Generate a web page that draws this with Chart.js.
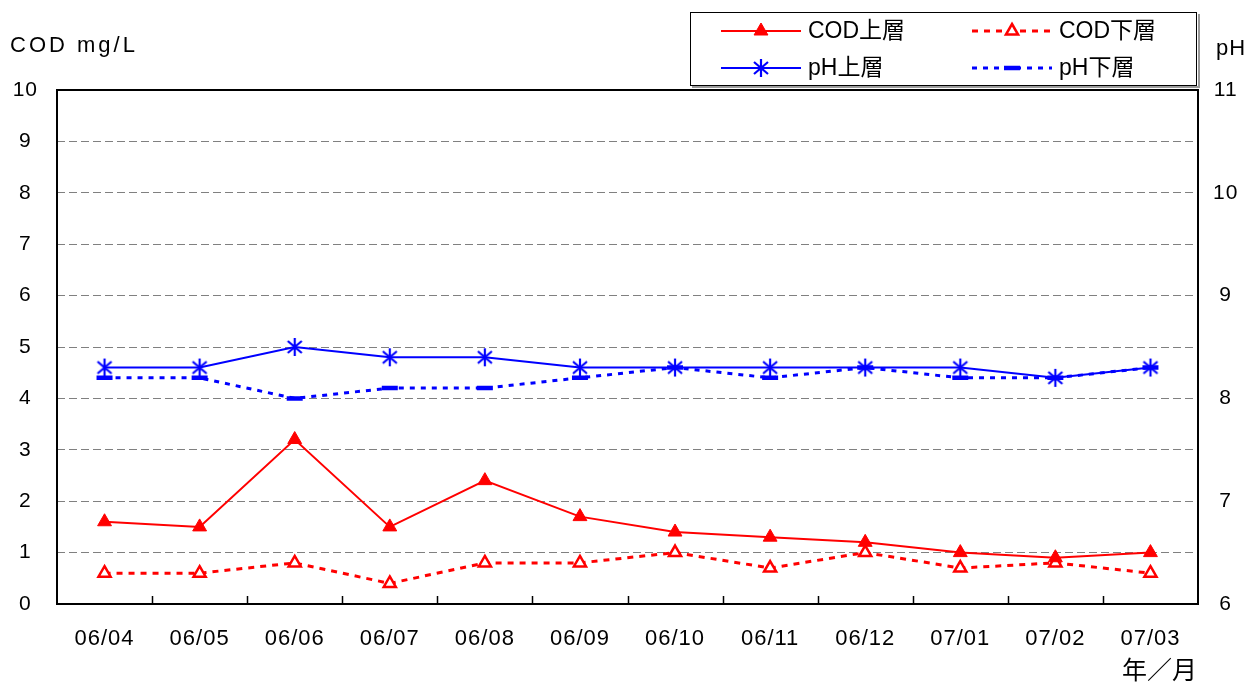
<!DOCTYPE html>
<html>
<head>
<meta charset="utf-8">
<script src="https://cdn.jsdelivr.net/npm/chart.js@4"></script>
<style>
  html, body { margin: 0; padding: 0; background: #fff; }
</style>
</head>
<body>
<canvas id="my-chart" width="1250" height="686"></canvas>
<script>
'use strict';

// ******* DATA *********
let monthLabels = ['06/04', '06/05', '06/06', '06/07', '06/08', '06/09', '06/10', '06/11', '06/12', '07/01', '07/02', '07/03'];
let codUpper = [1.6, 1.5, 3.2, 1.5, 2.4, 1.7, 1.4, 1.3, 1.2, 1.0, 0.9, 1.0];
let codLower = [0.6, 0.6, 0.8, 0.4, 0.8, 0.8, 1.0, 0.7, 1.0, 0.7, 0.8, 0.6];
let phUpper = [8.3, 8.3, 8.5, 8.4, 8.4, 8.3, 8.3, 8.3, 8.3, 8.3, 8.2, 8.3];
let phLower = [8.2, 8.2, 8.0, 8.1, 8.1, 8.2, 8.3, 8.2, 8.3, 8.2, 8.2, 8.3];
let codTicks = [0, 10, 1];
let phTicks = [6, 11, 1];

// ******* FONTS *********
let latinFont = '"Liberation Sans", "Noto Sans CJK JP", sans-serif';
let cjkFont = '"Noto Sans CJK JP", "Liberation Sans", sans-serif';

// ******* ASTERISK MARKER (vertical + X) *********
function makeAsterisk() {
  let c = document.createElement('canvas');
  c.width = 18;
  c.height = 20;
  let g = c.getContext('2d');
  g.strokeStyle = '#0000ff';
  g.lineWidth = 2.2;
  g.beginPath();
  g.moveTo(9, 1); g.lineTo(9, 19);
  g.moveTo(2, 4); g.lineTo(16, 16);
  g.moveTo(2, 16); g.lineTo(16, 4);
  g.stroke();
  return c;
}
let asterisk = makeAsterisk();

// ******* FRAME, TICKS, TITLES, LEGEND *********
let decorPlugin = {
  id: 'decor',
  beforeDraw(chart) {
    chart.ctx.letterSpacing = '1px';
  },
  afterDraw(chart) {
    let ctx = chart.ctx;
    let a = chart.chartArea;
    let xs = chart.scales.x;
    ctx.save();
    ctx.letterSpacing = '0px';
    ctx.setLineDash([]);

    // plot frame
    ctx.strokeStyle = '#000';
    ctx.lineWidth = 2;
    ctx.strokeRect(a.left, a.top, a.right - a.left, a.bottom - a.top);

    // inner tick marks at category boundaries
    ctx.lineWidth = 1.5;
    ctx.beginPath();
    for (let i = 1; i < monthLabels.length; i++) {
      let x = Math.round((xs.getPixelForValue(i - 1) + xs.getPixelForValue(i)) / 2) + 0.5;
      ctx.moveTo(x, a.bottom);
      ctx.lineTo(x, a.bottom - 8);
    }
    ctx.stroke();

    // axis titles
    ctx.fillStyle = '#000';
    ctx.textBaseline = 'middle';
    ctx.textAlign = 'left';
    ctx.font = '22px ' + latinFont;
    ctx.letterSpacing = '3px';
    ctx.fillText('COD mg/L', 10, 46);
    ctx.letterSpacing = '1px';
    ctx.fillText('pH', 1216, 49);
    ctx.letterSpacing = '0px';
    ctx.font = '25px ' + cjkFont;
    ctx.fillText('年／月', 1122, 669);

    // legend box
    ctx.fillStyle = '#fff';
    ctx.fillRect(690, 12, 507, 74);
    ctx.strokeStyle = '#9a9a9a';
    ctx.lineWidth = 2;
    ctx.beginPath();
    ctx.moveTo(692, 87); ctx.lineTo(1199, 87); ctx.lineTo(1199, 14);
    ctx.stroke();
    ctx.strokeStyle = '#000';
    ctx.lineWidth = 1;
    ctx.strokeRect(690.5, 12.5, 506, 73);

    let spots = [[721, 31], [972, 31], [721, 68], [972, 68]];
    chart.data.datasets.forEach((ds, i) => {
      let x0 = spots[i][0];
      let y = spots[i][1];
      ctx.strokeStyle = ds.borderColor;
      ctx.lineWidth = ds.borderWidth;
      ctx.setLineDash(ds.borderDash || []);
      ctx.beginPath();
      ctx.moveTo(x0, y);
      ctx.lineTo(x0 + 80, y);
      ctx.stroke();
      ctx.setLineDash([]);
      ctx.fillStyle = ds.pointBackgroundColor;
      ctx.strokeStyle = ds.pointBorderColor;
      ctx.lineWidth = ds.pointBorderWidth;
      Chart.helpers.drawPoint(ctx, {
        pointStyle: ds.pointStyle,
        radius: ds.pointRadius,
        rotation: 0,
        borderWidth: ds.pointBorderWidth
      }, x0 + 40, y);
      ctx.fillStyle = '#000';
      ctx.font = '23px ' + latinFont;
      ctx.textAlign = 'left';
      ctx.fillText(ds.label, x0 + 87, y + 1);
    });
    ctx.restore();
  }
};

// ******* CHART *********
let ctx = document.getElementById('my-chart');

let xTickFont = { family: latinFont, size: 22 };
let yTickFont = { family: latinFont, size: 21 };

new Chart(ctx, { //eslint-disable-line
  type: 'line',
  data: {
    labels: monthLabels,
    datasets: [{
      label: 'COD上層',
      data: codUpper,
      yAxisID: 'y',
      borderColor: '#ff0000',
      borderWidth: 2,
      pointStyle: 'triangle',
      pointRadius: 8,
      pointBackgroundColor: '#ff0000',
      pointBorderColor: '#ff0000',
      pointBorderWidth: 1
    },
    {
      label: 'COD下層',
      data: codLower,
      yAxisID: 'y',
      borderColor: '#ff0000',
      borderWidth: 3,
      borderDash: [6, 6],
      pointStyle: 'triangle',
      pointRadius: 7,
      pointBackgroundColor: '#ffffff',
      pointBorderColor: '#ff0000',
      pointBorderWidth: 2.5
    },
    {
      label: 'pH上層',
      data: phUpper,
      yAxisID: 'y2',
      borderColor: '#0000ff',
      borderWidth: 2,
      pointStyle: asterisk,
      pointRadius: 9,
      pointBackgroundColor: '#0000ff',
      pointBorderColor: '#0000ff',
      pointBorderWidth: 2
    },
    {
      label: 'pH下層',
      data: phLower,
      yAxisID: 'y2',
      borderColor: '#0000ff',
      borderWidth: 3,
      borderDash: [5, 6],
      pointStyle: 'line',
      pointRadius: 8,
      pointBackgroundColor: '#0000ff',
      pointBorderColor: '#0000ff',
      pointBorderWidth: 4.5
    }]
  },
  options: {
    responsive: false,
    animation: false,
    layout: { padding: { top: 90, left: 0, right: 0, bottom: 0 } },
    plugins: {
      legend: { display: false },
      tooltip: { enabled: false }
    },
    scales: {
      x: {
        offset: true,
        grid: { display: false, drawTicks: false },
        border: { display: false },
        ticks: { color: '#000', font: xTickFont, padding: 22, maxRotation: 0, autoSkip: false },
        afterFit: (s) => { s.height = 82; }
      },
      y: {
        position: 'left',
        min: codTicks[0],
        max: codTicks[1],
        ticks: { stepSize: codTicks[2], color: '#000', font: yTickFont, padding: 20, crossAlign: 'center' },
        grid: {
          color: (c) => (c.tick.value === codTicks[0] || c.tick.value === codTicks[1]) ? 'rgba(0,0,0,0)' : '#808080',
          lineWidth: 1,
          drawTicks: false
        },
        border: { display: false, dash: [8, 4] },
        afterFit: (s) => { s.width = 57; }
      },
      y2: {
        position: 'right',
        min: phTicks[0],
        max: phTicks[1],
        ticks: { stepSize: phTicks[2], color: '#000', font: yTickFont, padding: 16, crossAlign: 'center' },
        grid: { drawOnChartArea: false, drawTicks: false },
        border: { display: false },
        afterFit: (s) => { s.width = 52; }
      }
    }
  },
  plugins: [decorPlugin]
});
</script>
</body>
</html>
